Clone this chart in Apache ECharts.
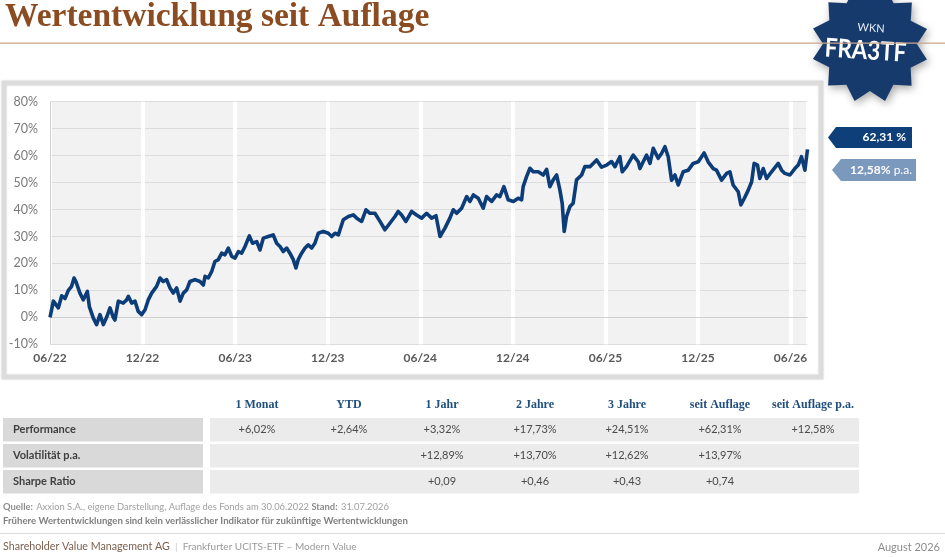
<!DOCTYPE html>
<html>
<head>
<meta charset="utf-8">
<script src="https://cdn.jsdelivr.net/npm/echarts@6.0.0/dist/echarts.min.js"></script>
<style>
  html, body { margin: 0; padding: 0; background: #fff; }
  #main { width: 945px; height: 557px; }
</style>
</head>
<body>
<div id="main"></div>
<script>
// Monate seit Auflage (30.06.2022) und Wertentwicklung in %
const months = [
  0.00, 0.22, 0.54, 0.76, 0.97, 1.19, 1.40, 1.56, 1.68, 1.94, 2.16, 2.42, 2.55, 2.81, 3.02, 3.24,
  3.46, 3.67, 3.89, 4.10, 4.21, 4.43, 4.75, 4.97, 5.08, 5.29, 5.51, 5.72, 5.94, 6.16, 6.37, 6.59,
  6.91, 7.13, 7.34, 7.56, 7.78, 7.99, 8.21, 8.43, 8.64, 8.86, 9.07, 9.40, 9.72, 9.94, 10.05, 10.26,
  10.48, 10.69, 10.91, 11.13, 11.34, 11.56, 11.78, 11.99, 12.21, 12.42, 12.64, 12.92, 13.13, 13.40,
  13.61, 13.83, 14.15, 14.47, 14.69, 14.91, 15.12, 15.34, 15.55, 15.77, 15.94, 16.09, 16.31, 16.53,
  16.74, 16.96, 17.17, 17.39, 17.71, 18.04, 18.26, 18.47, 18.69, 19.01, 19.34, 19.66, 19.88, 20.20,
  20.48, 20.74, 21.06, 21.39, 21.71, 22.03, 22.36, 22.57, 22.79, 23.07, 23.44, 23.76, 24.09, 24.41,
  24.74, 25.02, 25.28, 25.60, 25.92, 26.14, 26.36, 26.68, 27.01, 27.22, 27.44, 27.76, 28.08, 28.30,
  28.63, 28.95, 29.16, 29.42, 29.70, 30.03, 30.35, 30.57, 30.67, 30.89, 31.11, 31.32, 31.65, 31.97,
  32.19, 32.40, 32.62, 32.84, 33.05, 33.20, 33.33, 33.48, 33.70, 33.91, 34.13, 34.46, 34.67, 35.00,
  35.43, 35.75, 36.08, 36.40, 36.62, 36.94, 37.09, 37.37, 37.80, 38.13, 38.24, 38.45, 38.67, 38.89,
  39.10, 39.42, 39.64, 39.86, 40.07, 40.29, 40.51, 40.72, 41.04, 41.37, 41.69, 42.02, 42.40, 42.66,
  42.99, 43.20, 43.53, 43.86, 44.07, 44.28, 44.61, 44.78, 45.00, 45.26, 45.48, 45.64, 45.86, 46.01,
  46.23, 46.45, 46.77, 47.20, 47.42, 47.63, 47.96, 48.28, 48.50, 48.71, 48.93, 49.10
];
const perf = [
  0.0, 6.0, 3.5, 8.0, 7.0, 10.0, 11.5, 14.6, 13.3, 9.0, 6.5, 9.6, 4.0, -0.3, -2.7, 1.0,
  -2.7, 0.0, 3.5, 0.0, -1.0, 6.0, 5.3, 6.5, 7.8, 5.3, 6.0, 2.2, 1.0, 2.8, 6.5, 9.0,
  11.5, 14.6, 13.3, 14.0, 10.9, 9.0, 10.9, 6.0, 9.0, 10.2, 13.3, 14.0, 13.3, 12.0, 15.2, 14.6,
  17.0, 20.7, 21.4, 23.8, 23.2, 25.7, 22.6, 22.0, 24.4, 23.8, 26.3, 30.2, 27.5, 28.1,
  25.0, 29.4, 30.0, 30.6, 27.5, 26.3, 24.4, 25.7, 23.8, 21.4, 18.3, 21.4, 23.8, 25.7,
  26.9, 25.7, 27.5, 31.2, 31.9, 31.2, 30.0, 31.2, 30.6, 36.2, 37.4, 38.0, 36.8, 35.6,
  39.9, 38.6, 38.6, 35.6, 32.5, 34.9, 37.4, 39.3, 38.0, 35.6, 39.3, 38.0, 36.8, 38.6,
  36.8, 37.7, 30.0, 33.1, 36.8, 39.9, 38.6, 40.5, 44.8, 43.0, 45.4, 44.2, 40.5, 44.8,
  43.0, 45.4, 44.8, 48.5, 43.6, 43.0, 44.2, 43.6, 48.5, 52.2, 55.3, 54.0, 54.0, 52.8,
  54.9, 48.5, 51.0, 52.8, 47.3, 42.3, 31.9, 37.4, 41.1, 42.3, 51.0, 52.8, 55.9, 55.9,
  58.4, 55.7, 56.5, 57.8, 55.9, 59.6, 54.0, 55.9, 60.2, 57.7, 55.2, 57.7, 60.2, 57.1,
  62.7, 59.0, 60.8, 63.3, 59.6, 50.9, 52.8, 49.1, 54.0, 54.6, 57.1, 57.7, 61.0, 57.7,
  55.2, 54.6, 50.9, 53.4, 54.0, 49.1, 46.6, 41.7, 44.1, 47.2, 50.3, 57.1, 56.5, 51.5,
  55.2, 51.5, 54.0, 57.1, 54.6, 53.4, 52.8, 55.2, 56.5, 59.6, 54.6, 62.31
];
const xTickLabels = ['06/22', '12/22', '06/23', '12/23', '06/24', '12/24', '06/25', '12/25', '06/26'];

const tableCols = ['1 Monat', 'YTD', '1 Jahr', '2 Jahre', '3 Jahre', 'seit Auflage', 'seit Auflage p.a.'];
const tableRows = ['Performance', 'Volatilität p.a.', 'Sharpe Ratio'];
const rowPerformance = ['+6,02%', '+2,64%', '+3,32%', '+17,73%', '+24,51%', '+62,31%', '+12,58%'];
const rowVola = ['', '', '+12,89%', '+13,70%', '+12,62%', '+13,97%', ''];
const rowSharpe = ['', '', '+0,09', '+0,46', '+0,43', '+0,74', ''];
const tableValues = [rowPerformance, rowVola, rowSharpe];

const totalReturn = '62,31 %';
const annualReturn = '12,58%';

const chart = echarts.init(document.getElementById('main'));

const sans = 'Lato, "Open Sans", sans-serif';
const serif = '"Liberation Serif", "DejaVu Serif", serif';

// Stern fuer das WKN-Siegel
function sealPoints(cx, cy, rOut, rIn, n) {
  const pts = [];
  for (let i = 0; i < n * 2; i++) {
    const r = i % 2 === 0 ? rOut : rIn;
    const a = Math.PI * i / n - Math.PI / 2 + 0.2;
    pts.push([cx + r * Math.cos(a), cy + r * Math.sin(a)]);
  }
  return pts;
}

const graphics = [];

// Titel
graphics.push({
  type: 'text', left: 5, top: 0, z: 20,
  style: { text: 'Wertentwicklung seit Auflage', font: 'bold 33.5px ' + serif, fill: '#8b4c22' }
});
graphics.push({
  type: 'rect', z: 20, shape: { x: 0, y: 42.5, width: 945, height: 1.2 },
  style: { fill: '#c9a58c' }
});

// Rahmen um das Diagramm
graphics.push({
  type: 'rect', z: -10, shape: { x: 4, y: 83, width: 817, height: 294 },
  style: { fill: '#fff', stroke: '#dcdcdc', lineWidth: 5, shadowBlur: 3, shadowColor: 'rgba(0,0,0,0.08)' }
});

// Siegel
graphics.push({
  type: 'group', z: 30, x: 870, y: 44, rotation: -0.065,
  children: [
    {
      type: 'polygon', shape: { points: sealPoints(0, 0, 59, 47, 12) },
      style: { fill: '#163a6c', shadowBlur: 8, shadowOffsetX: 2, shadowOffsetY: 3, shadowColor: 'rgba(0,0,0,0.35)' }
    },
    {
      type: 'text', x: 0, y: -16,
      style: { text: 'WKN', font: '11px ' + sans, fill: '#e8eef6', align: 'center', verticalAlign: 'middle' }
    },
    {
      type: 'text', x: -4, y: 7, scaleX: 0.86,
      style: { text: 'FRA3TF', font: 'bold 26px ' + sans, fill: '#fff', align: 'center', verticalAlign: 'middle' }
    }
  ]
});

// Kennzahlen-Fahnen rechts
graphics.push({
  type: 'polygon', z: 20,
  shape: { points: [[828, 137.5], [836, 127], [912, 127], [912, 148], [836, 148]] },
  style: { fill: '#0e3f78' }
});
graphics.push({
  type: 'text', z: 21, x: 906, y: 137.5,
  style: { text: totalReturn, font: 'bold 12px ' + sans, fill: '#fff', align: 'right', verticalAlign: 'middle' }
});
graphics.push({
  type: 'polygon', z: 20,
  shape: { points: [[832, 170], [841, 159], [916, 159], [916, 181], [841, 181]] },
  style: { fill: '#7b98bd' }
});
graphics.push({
  type: 'text', z: 21, x: 912, y: 170,
  style: {
    text: '{b|' + annualReturn + '}{n| p.a.}', align: 'right', verticalAlign: 'middle',
    rich: {
      b: { font: 'bold 12px ' + sans, fill: '#fff' },
      n: { font: '12px ' + sans, fill: '#fff' }
    }
  }
});

// Tabelle
const colCenter = [257, 349, 442, 535, 627, 720, 813];
const rowTop = [418, 444, 470];
const rowH = 23.5;
tableCols.forEach((c, i) => {
  graphics.push({
    type: 'text', z: 20, x: colCenter[i], y: 405,
    style: { text: c, font: 'bold 12px ' + serif, fill: '#1f4e7f', align: 'center', verticalAlign: 'middle' }
  });
});
tableRows.forEach((r, j) => {
  graphics.push({
    type: 'rect', z: 10, shape: { x: 3, y: rowTop[j], width: 200, height: rowH },
    style: { fill: '#d9d9d9' }
  });
  graphics.push({
    type: 'rect', z: 10, shape: { x: 210, y: rowTop[j], width: 649, height: rowH },
    style: { fill: '#ebebeb' }
  });
  graphics.push({
    type: 'text', z: 20, x: 13, y: rowTop[j] + rowH / 2,
    style: { text: r, font: 'bold 11px ' + sans, fill: '#3f3f3f', verticalAlign: 'middle' }
  });
  tableValues[j].forEach((v, i) => {
    if (!v) return;
    graphics.push({
      type: 'text', z: 20, x: colCenter[i], y: rowTop[j] + rowH / 2,
      style: { text: v, font: '11px ' + sans, fill: '#4a4a4a', align: 'center', verticalAlign: 'middle' }
    });
  });
});

// Quelle
graphics.push({
  type: 'text', z: 20, x: 3, y: 507,
  style: {
    text: '{b|Quelle:} {n|Axxion S.A., eigene Darstellung, Auflage des Fonds am 30.06.2022 }{b|Stand:} {n|31.07.2026}',
    verticalAlign: 'middle',
    rich: {
      b: { font: 'bold 9.4px ' + sans, fill: '#8c8c8c' },
      n: { font: '9.4px ' + sans, fill: '#a0a0a0' }
    }
  }
});
graphics.push({
  type: 'text', z: 20, x: 3, y: 520.5,
  style: {
    text: 'Frühere Wertentwicklungen sind kein verlässlicher Indikator für zukünftige Wertentwicklungen',
    font: 'bold 9.6px ' + sans, fill: '#7f7f7f', verticalAlign: 'middle'
  }
});

// Fusszeile
graphics.push({
  type: 'rect', z: 20, shape: { x: 0, y: 533, width: 945, height: 1 },
  style: { fill: '#dedede' }
});
graphics.push({
  type: 'text', z: 20, x: 3, y: 547,
  style: {
    text: '{a|Shareholder Value Management AG}{s|  |  }{c|Frankfurter UCITS-ETF – Modern Value}',
    verticalAlign: 'middle',
    rich: {
      a: { font: '10.7px ' + sans, fill: '#7a604e' },
      s: { font: '10px ' + sans, fill: '#c8c8c8' },
      c: { font: '10px ' + sans, fill: '#9a9a9a' }
    }
  }
});
graphics.push({
  type: 'text', z: 20, x: 940, y: 547,
  style: { text: 'August 2026', font: '11px ' + sans, fill: '#8c8c8c', align: 'right', verticalAlign: 'middle' }
});

const option = {
  animation: false,
  backgroundColor: '#fff',
  grid: {
    left: 50, top: 101.7, width: 757.5, height: 242.6,
    show: true, backgroundColor: '#f2f2f2', borderWidth: 0
  },
  xAxis: {
    type: 'value', min: 0, max: 49.1, interval: 6,
    axisLine: { show: true, lineStyle: { color: '#d0d0d0', width: 1 } },
    axisTick: { show: false },
    splitLine: { show: true, lineStyle: { color: '#fff', width: 4 } },
    axisLabel: {
      showMaxLabel: false, margin: 8,
      color: '#595959', fontFamily: sans, fontWeight: 'bold', fontSize: 12,
      formatter: v => xTickLabels[Math.round(v / 6)] || ''
    }
  },
  yAxis: {
    type: 'value', min: -10, max: 80, interval: 10,
    axisLine: { show: true, lineStyle: { color: '#d0d0d0', width: 1 } },
    axisTick: { show: false },
    splitLine: { show: true, lineStyle: { color: '#dcdcdc', width: 1 } },
    axisLabel: {
      margin: 12, color: '#7a7a7a', fontFamily: sans, fontSize: 12.5,
      formatter: '{value}%'
    }
  },
  series: [{
    type: 'line',
    data: months.map((m, i) => [m, perf[i]]),
    showSymbol: false,
    lineStyle: { color: '#0c3d79', width: 3.6, join: 'round' },
    z: 5
  }],
  graphic: graphics
};

chart.setOption(option);
</script>
</body>
</html>
